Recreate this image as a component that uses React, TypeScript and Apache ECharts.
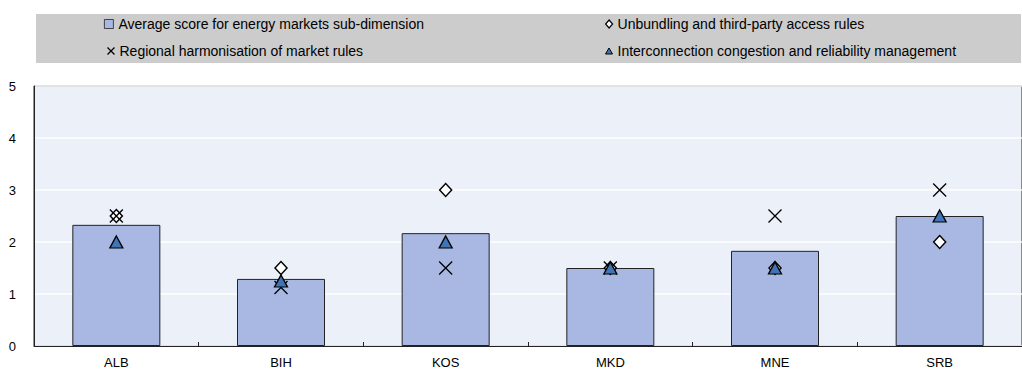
import React, { useEffect, useRef } from "react";
import * as echarts from "echarts";

const categories = ["ALB", "BIH", "KOS", "MKD", "MNE", "SRB"];
const averageScore = [2.33, 1.29, 2.17, 1.5, 1.83, 2.5];
const unbundling = [2.5, 1.5, 3, 1.5, 1.5, 2];
const regional = [2.5, 1.125, 1.5, 1.5, 2.5, 3];
const interconnection = [2, 1.25, 2, 1.5, 1.5, 2.5];
const yMin = 0;
const yMax = 5;
const yInterval = 1;

const nameAvg = "Average score for energy markets sub-dimension";
const nameUnb = "Unbundling and third-party access rules";
const nameReg = "Regional harmonisation of market rules";
const nameInt = "Interconnection congestion and reliability management";

const CROSS = "path://M0,0L10,10M10,0L0,10";
const FONT = "'Liberation Sans', Arial, sans-serif";

export default function App() {
  const ref = useRef<HTMLDivElement>(null);
  useEffect(() => {
    if (!ref.current) return;
    const chart = echarts.init(ref.current, null, { renderer: "svg" });
    const legendText = { fontSize: 14, color: "#000", fontFamily: FONT };
    const mkLegend = (name: string, left: number, top: number, icon: string, w: number, h: number, itemStyle: any) => ({
      show: true,
      left,
      top,
      orient: "vertical",
      data: [{ name, icon, itemStyle }],
      itemWidth: w,
      itemHeight: h,
      itemGap: 0,
      padding: 0,
      textStyle: legendText,
      selectedMode: false,
    });
    chart.setOption({
      animation: false,
      textStyle: { fontFamily: FONT },
      graphic: [
        {
          type: "rect",
          shape: { x: 36, y: 14, width: 985, height: 49 },
          style: { fill: "#CCCCCC" },
          z: -1,
        },
      ],
      legend: [
        mkLegend(nameAvg, 104, 17, "rect", 9, 9, { color: "#A8B8E2", borderColor: "#222", borderWidth: 0.8 }),
        mkLegend(nameReg, 105, 44, CROSS, 7, 7, { color: "none", borderColor: "#000", borderWidth: 1.3 }),
        mkLegend(nameUnb, 605, 17, "diamond", 7, 8, { color: "#fff", borderColor: "#000", borderWidth: 1.2 }),
        mkLegend(nameInt, 605, 44, "triangle", 7, 6, { color: "#3F74B5", borderColor: "#000", borderWidth: 1 }),
      ],
      grid: {
        left: 34,
        right: 0,
        top: 86,
        bottom: 30,
        show: true,
        backgroundColor: "#ECF0F8",
        borderColor: "#222",
        borderWidth: 1,
      },
      xAxis: {
        type: "category",
        data: categories,
        axisLine: { lineStyle: { color: "#222", width: 1 } },
        axisTick: { show: true, inside: true, length: 4, lineStyle: { color: "#222" } },
        axisLabel: { color: "#000", fontSize: 13, margin: 10, fontFamily: FONT },
      },
      yAxis: {
        type: "value",
        min: yMin,
        max: yMax,
        interval: yInterval,
        axisLine: { show: true, lineStyle: { color: "#222", width: 1 } },
        axisTick: { show: false },
        axisLabel: { color: "#000", fontSize: 13, margin: 18, fontFamily: FONT },
        splitLine: { show: true, lineStyle: { color: "#fff", width: 1.5 } },
      },
      series: [
        {
          name: nameAvg,
          type: "bar",
          data: averageScore,
          barWidth: 88,
          itemStyle: { color: "#A8B8E2", borderColor: "#222", borderWidth: 1 },
          z: 2,
        },
        {
          name: nameUnb,
          type: "scatter",
          data: unbundling,
          symbol: "diamond",
          symbolSize: [12, 13],
          itemStyle: { color: "#fff", borderColor: "#000", borderWidth: 1.5, opacity: 1 },
          z: 3,
        },
        {
          name: nameReg,
          type: "scatter",
          data: regional,
          symbol: CROSS,
          symbolSize: 13,
          itemStyle: { color: "none", borderColor: "#000", borderWidth: 1.3, opacity: 1 },
          z: 4,
        },
        {
          name: nameInt,
          type: "scatter",
          data: interconnection,
          symbol: "triangle",
          symbolSize: [13, 12],
          itemStyle: { color: "#3F74B5", borderColor: "#000", borderWidth: 1.3, opacity: 1 },
          z: 5,
        },
      ],
    });
    return () => chart.dispose();
  }, []);
  return (
    <div
      ref={ref}
      style={{ position: "fixed", left: 0, top: 0, width: 1022, height: 376, background: "#fff" }}
    />
  );
}
